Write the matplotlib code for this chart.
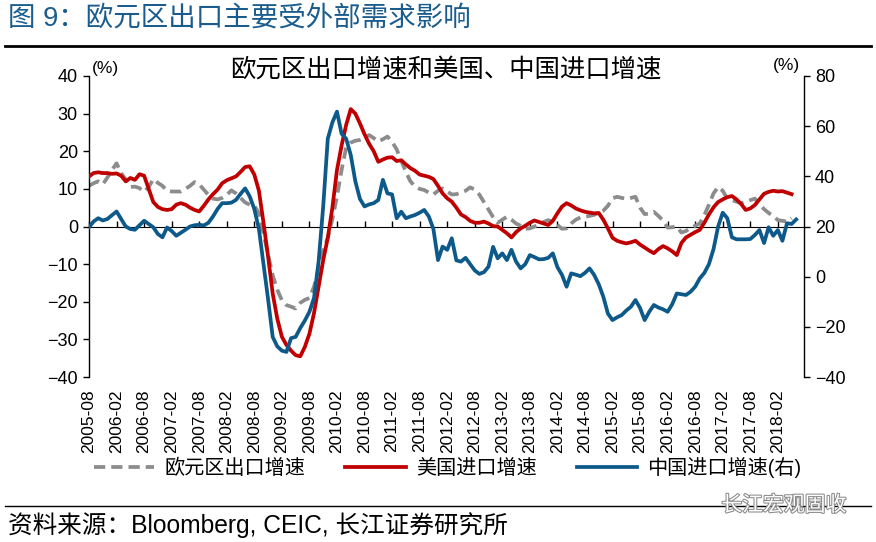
import matplotlib.pyplot as plt
import matplotlib.patheffects as pe
from matplotlib.lines import Line2D
import numpy as np
import pandas as pd

plt.rcParams['font.family'] = ['Liberation Sans', 'Noto Sans CJK SC']

START = '2005-08'

# 欧元区出口增速 (%), monthly from 2005-08, left axis
euro_exports = [
    10.8, 11.5, 12.0, 11.2, 13.0, 15.0, 16.8, 14.2, 12.5, 10.5, 10.6, 10.2,
    9.2, 10.5, 12.6, 11.6, 10.8, 9.5, 9.3, 9.3, 9.3, 10.0, 10.8, 11.8,
    11.2, 9.8, 8.4, 7.4, 7.2, 7.6, 8.4, 9.6, 8.8, 7.6, 6.4, 5.8,
    5.6, 3.5, -1.8, -7.5, -13.0, -16.8, -19.6, -20.9, -21.3, -21.8, -20.3, -19.5,
    -19.0, -16.0, -11.0, -6.5, -3.0, 2.0, 8.0, 15.0, 21.0, 22.3, 22.8, 23.0,
    23.5, 24.3, 23.5, 22.6, 23.2, 23.9, 22.5, 20.5, 17.5, 14.5, 12.0, 10.6,
    10.0, 9.7, 9.0, 8.5, 9.5, 10.1, 9.3, 8.5, 8.6, 9.0, 9.5, 10.4,
    9.8, 8.5, 6.5, 4.5, 2.5, 1.0, 1.8, 2.6, 1.8, 0.8, 0.2, -0.6,
    -0.5, 0.0, 0.5, 1.2, 1.7, 1.2, 0.4, -0.6, -0.5, 0.8, 1.8, 2.4,
    2.6, 2.8, 3.1, 3.6, 4.2, 5.5, 7.5, 7.9, 7.6, 7.4, 7.6, 7.9,
    5.0, 3.3, 3.4, 3.9, 2.8, 1.6, -0.3, -0.2, 0.0, -1.6, -1.2, -0.4,
    0.2, 0.8, 3.0, 5.8, 8.8, 10.5, 9.5, 7.4, 7.0, 6.6, 6.2, 6.6,
    7.0, 7.4, 6.0, 4.6, 3.6, 2.8, 1.7, 1.5, 1.3, 2.2,
]

# 美国进口增速 (%), monthly from 2005-08, left axis
us_imports = [
    13.3, 14.2, 14.4, 14.2, 14.2, 14.0, 14.1, 13.5, 12.0, 12.9, 12.4, 13.9,
    13.5, 10.0, 6.5, 5.2, 4.6, 4.4, 4.6, 5.8, 6.2, 5.8, 5.0, 4.4,
    4.0, 5.5, 7.2, 8.6, 9.8, 11.5, 12.3, 12.8, 13.3, 14.5, 15.8, 16.0,
    13.8, 9.5, 1.0, -8.0, -17.8, -24.5, -29.3, -31.5, -33.0, -34.2, -34.5, -32.0,
    -28.5, -23.0, -16.0, -9.0, -3.0, 5.0, 15.0, 21.5, 27.0, 31.2, 30.0, 27.4,
    24.5, 22.0, 20.0, 17.2, 17.8, 18.3, 18.4, 17.4, 17.6, 16.5, 15.5, 14.8,
    13.8, 13.5, 13.2, 12.6, 10.8, 8.8, 7.5, 6.6, 5.0, 3.2, 2.5, 1.5,
    1.0, 1.0, 1.3, 0.8, 0.1, 0.0, -0.9, -1.8, -2.9, -1.5, -0.5, 0.2,
    1.0, 1.6, 1.2, 0.8, 0.4, 1.5, 3.5, 5.3, 6.2, 5.6, 4.8, 4.3,
    3.9, 3.7, 3.5, 3.6, 1.8, -0.5, -3.0, -3.8, -4.2, -4.5, -4.2, -3.8,
    -4.8, -5.6, -6.4, -7.1, -6.0, -5.2, -5.8, -6.6, -7.6, -4.4, -2.9, -2.2,
    -1.5, -0.9, 1.0, 3.2, 5.1, 6.5, 7.2, 7.8, 8.1, 7.2, 6.0, 4.4,
    4.8, 5.7, 7.2, 8.7, 9.2, 9.5, 9.3, 9.4, 9.0, 8.6,
]

# 中国进口增速 (%), monthly from 2005-08, right axis
china_imports = [
    19.7, 22.0, 23.3, 22.4, 23.0, 24.5, 26.0, 23.0, 20.0, 19.0, 18.7, 20.5,
    22.3, 21.0, 19.7, 17.0, 15.7, 19.6, 18.2, 16.3, 17.5, 18.7, 20.0, 20.5,
    20.7, 20.4, 21.5, 24.0, 27.0, 29.3, 29.3, 29.5, 30.6, 33.0, 35.2, 32.0,
    27.0, 19.0, 5.0, -9.0, -24.0, -27.8, -29.5, -30.0, -24.5, -24.0, -20.5, -17.5,
    -14.0, -8.5, 6.0, 28.0, 55.0, 61.5, 65.8, 57.0, 55.0, 48.5, 38.0, 31.0,
    28.0, 28.8, 29.3, 30.6, 38.6, 33.2, 32.8, 23.3, 25.9, 23.3, 24.0, 24.6,
    25.5, 26.6, 24.0, 19.0, 6.6, 12.0, 10.7, 15.3, 6.5, 6.0, 7.5, 5.0,
    2.5, 1.1, 1.8, 4.0, 11.9, 7.3, 9.3, 6.6, 10.7, 6.0, 3.3, 5.0,
    8.6, 7.8, 6.9, 7.0, 7.5, 9.3, 3.8, 0.7, -4.0, 1.3, 0.8, 0.2,
    1.5, 3.3, 0.7, -3.0, -8.0, -14.7, -17.3, -16.2, -15.3, -13.5, -12.0, -9.3,
    -12.5, -17.3, -14.0, -11.3, -12.3, -13.0, -14.0, -11.0, -6.7, -7.0, -7.3, -6.0,
    -4.0, -0.7, 1.5, 5.0, 11.0, 20.0, 25.5, 23.3, 15.7, 14.9, 14.9, 14.9,
    15.0, 16.6, 18.6, 13.4, 19.7, 16.3, 18.6, 14.3, 21.3, 21.0, 22.8,
]

labels = ['欧元区出口增速', '美国进口增速', '中国进口增速(右)']

n = len(china_imports)
dates = pd.date_range(START, periods=n, freq='MS')
tick_pos = np.arange(0, n, 6)
tick_labels = [d.strftime('%Y-%m') for d in dates[tick_pos]]

fig = plt.figure(figsize=(8.76, 5.42), dpi=100)
ax = fig.add_axes([0.1016, 0.3044, 0.8162, 0.5554])
ax2 = ax.twinx()

l1, = ax.plot(np.arange(len(euro_exports)), euro_exports, color='#8c8c8c', lw=2.7,
              dashes=(3.0, 1.6), dash_capstyle='butt', zorder=2)
l2, = ax.plot(np.arange(len(us_imports)), us_imports, color='#c00000', lw=2.7, zorder=3)
l3, = ax2.plot(np.arange(n), china_imports, color='#0d5a8a', lw=2.7, zorder=3)

ax.set_xlim(0, 155.7)
ax.set_ylim(-40, 40)
ax.set_yticks(range(-40, 41, 10))
ax2.set_ylim(-40, 80)
ax2.set_yticks(range(-40, 81, 20))

for a in (ax, ax2):
    a.spines['top'].set_visible(False)
    a.spines['bottom'].set_visible(False)
ax.spines['right'].set_visible(False)
ax2.spines['left'].set_visible(False)
ax.spines['left'].set_linewidth(1.0)
ax2.spines['right'].set_linewidth(1.0)

ax.set_xticks(tick_pos)
ax.set_xticklabels(tick_labels, rotation=90)
ax.tick_params(axis='x', length=0, pad=9, labelsize=12.5)
ax.tick_params(axis='y', direction='out', length=4, width=1, labelsize=13, pad=4)
ax2.tick_params(axis='y', direction='out', length=4, width=1, labelsize=13, pad=4)

# zero line with tick marks
zero = ax.secondary_xaxis(0.5)
zero.set_xticks(tick_pos)
zero.set_xticklabels([])
zero.tick_params(axis='x', direction='out', length=4, width=1)
zero.spines['bottom'].set_linewidth(1.0)

fig.text(0.009, 0.966, '图 9：欧元区出口主要受外部需求影响', color='#1a5c8e',
         fontsize=19.8, va='center', ha='left')
fig.add_artist(Line2D([0.006, 0.994], [0.915, 0.915], color='black', lw=2))
fig.text(0.509, 0.871, '欧元区出口增速和美国、中国进口增速', ha='center', va='center', fontsize=18.3)
fig.text(0.105, 0.873, '(%)', ha='left', va='center', fontsize=12.5)
fig.text(0.913, 0.879, '(%)', ha='right', va='center', fontsize=12.5)

fig.legend([l1, l2, l3], labels, loc='center', bbox_to_anchor=(0.511, 0.137), ncol=3,
           frameon=False, fontsize=14.5, handlelength=3.0, handletextpad=0.5,
           columnspacing=2.0)

fig.add_artist(Line2D([0.006, 0.994], [0.066, 0.066], color='black', lw=1.0))
fig.text(0.009, 0.031, '资料来源：Bloomberg, CEIC, 长江证券研究所', fontsize=17.7, va='center', ha='left')
fig.text(0.895, 0.068, '长江宏观固收', fontsize=15, color='white', ha='center', va='center',
         path_effects=[pe.withStroke(linewidth=1.5, foreground='#8a8a8a')])

fig.savefig('out.png', dpi=100)
